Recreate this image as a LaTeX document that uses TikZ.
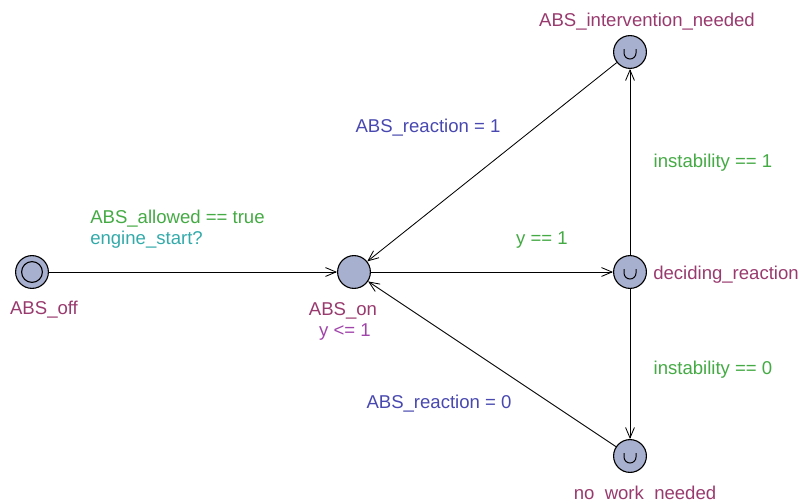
\documentclass[tikz,border=0pt]{standalone}
\usepackage{fontspec}
\setmainfont{Liberation Sans}
\usetikzlibrary{arrows.meta}
\definecolor{locfill}{HTML}{A8B0CF}
\definecolor{locname}{HTML}{993A6E}
\definecolor{invcol}{HTML}{A044AA}
\definecolor{guardcol}{HTML}{44AA44}
\definecolor{synccol}{HTML}{33AAAA}
\definecolor{assigncol}{HTML}{4848B0}
\def\commitcup(#1){\draw[line width=0.7pt] ([shift={(-0.15cm,0.075cm)}]#1.center) -- ++(0,-0.1cm) arc (180:360:0.15cm) -- ++(0,0.1cm);}

\begin{document}
\begin{tikzpicture}[x=0.025cm, y=-0.025cm, font=\fontsize{13.2}{15}\selectfont,
		loc/.style={circle, draw, line width=0.8pt, fill=locfill, minimum size=0.82cm, inner sep=0pt},
		edge/.style={line width=0.6pt, -{Straight Barb[length=2.6mm,width=2.2mm]}},
		locname/.style={text=locname, anchor=base, inner sep=0pt},
		guard/.style={text=guardcol, anchor=base, inner sep=0pt},
		assign/.style={text=assigncol, anchor=base, inner sep=0pt}]
		%%%%% START %%%%%
		\useasboundingbox (0, 0) rectangle (801, 500);
		
		% locations
		\node[loc] (off) at (32, 272) {};
		\draw[line width=0.8pt] (off) circle (0.26cm);
		\node[loc] (on) at (354, 272) {};
		\node[loc] (decide) at (630, 272) {};
		\node[loc] (needed) at (630, 52) {};
		\node[loc] (nowork) at (630, 456) {};
		\commitcup(decide)
		\commitcup(needed)
		\commitcup(nowork)
		
		% names
		\node[locname] (offname) at (44, 314) {ABS\_off};
		\node[locname] (onname) at (343, 315) {ABS\_on};
		\node[text=invcol, anchor=base, inner sep=0pt] (oninv) at (345, 336) {y <= 1};
		\node[locname] (neededname) at (647, 26) {ABS\_intervention\_needed};
		\node[locname, anchor=base west] (decidename) at (653, 279) {deciding\_reaction};
		\node[locname] (noworkname) at (645, 499) {no\_work\_needed};
		
		% edges
		\draw[edge] (off) -- (on);
		\draw[edge] (on) -- (decide);
		\draw[edge] (decide) -- (needed);
		\draw[edge] (decide) -- (nowork);
		\draw[edge] (needed) -- (on);
		\draw[edge] (nowork) -- (on);
		
		% labels
		\node[guard, anchor=base west] (allowed) at (90, 223) {ABS\_allowed == true};
		\node[text=synccol, anchor=base west, inner sep=0pt] (start) at (90, 244) {engine\_start?};
		\node[guard] (yguard) at (542, 244) {y == 1};
		\node[guard] (instab1) at (713, 167) {instability == 1};
		\node[guard] (instab0) at (713, 374) {instability == 0};
		\node[assign] (react1) at (428, 132) {ABS\_reaction = 1};
		\node[assign] (react0) at (439, 408) {ABS\_reaction = 0};
		
		%%%%% END %%%%%
	\end{tikzpicture}
\end{document}
